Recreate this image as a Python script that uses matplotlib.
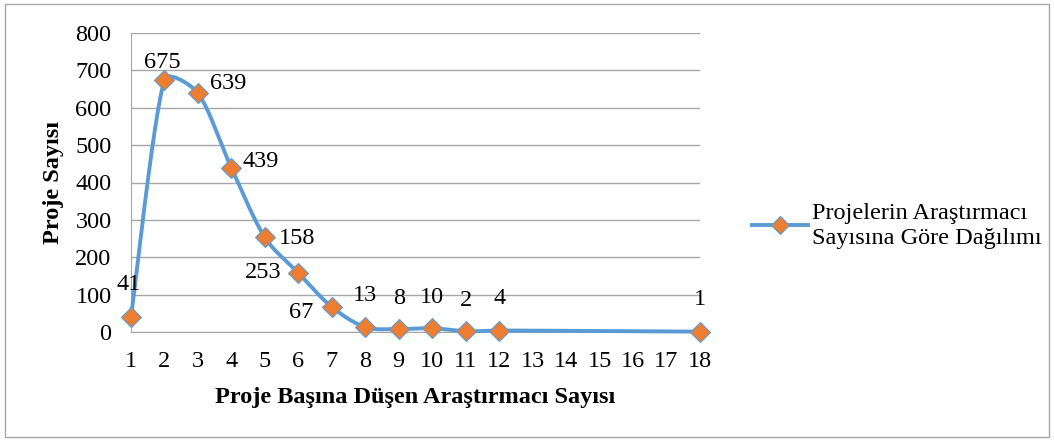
import numpy as np
import matplotlib
matplotlib.use("Agg")
import matplotlib.pyplot as plt
from matplotlib.patches import Rectangle
from matplotlib.lines import Line2D

# data
categories = list(range(1, 19))
x_vals = [1, 2, 3, 4, 5, 6, 7, 8, 9, 10, 11, 12, 18]
y_vals = [41, 675, 639, 439, 253, 158, 67, 13, 8, 10, 2, 4, 1]
series_name = "Projelerin Araştırmacı\nSayısına Göre Dağılımı"

# label offsets in pixels (dx, dy) relative to each point
label_offsets = [(-2, 32), (-2, 17), (30, 10), (29, 6), (-2, -35), (-1, 34),
                 (-31, -6), (0, 32), (0, 31), (0, 31), (0, 31), (0, 32), (0, 32)]

plt.rcParams['font.family'] = ['Liberation Serif', 'DejaVu Serif']
FS = 17.5

fig = plt.figure(figsize=(10.54, 4.41), dpi=100)
ax = fig.add_axes([131/1054, 1 - 332/441, 569/1054, 299/441])

# outer chart border
fig.patches.append(Rectangle((5/1054, 4/441), 1044/1054, 433/441, transform=fig.transFigure,
                             fill=False, edgecolor='#a6a6a6', linewidth=1))

# smoothing (bezier, tangents capped by segment length) in screen-like units
sx = 569 / 17.0
sy = 299 / 800.0
px = (np.array(x_vals) - 1) * sx
py = np.array(y_vals) * sy
cx, cy = [], []
n = len(px)
def dist(a, b):
    return np.hypot(a[0]-b[0], a[1]-b[1])
for i in range(n - 1):
    p0 = (px[max(i-1, 0)], py[max(i-1, 0)])
    p1 = (px[i], py[i])
    p2 = (px[i+1], py[i+1])
    p3 = (px[min(i+2, n-1)], py[min(i+2, n-1)])
    d01, d12, d23 = dist(p0, p1), dist(p1, p2), dist(p2, p3)
    f1 = min(1/6, (d12 / (d01 + d12)) / 3) if d01 > 0 else 1/6
    f2 = min(1/6, (d12 / (d12 + d23)) / 3) if d23 > 0 else 1/6
    c1 = (p1[0] + (p2[0]-p0[0])*f1, p1[1] + (p2[1]-p0[1])*f1)
    c2 = (p2[0] - (p3[0]-p1[0])*f2, p2[1] - (p3[1]-p1[1])*f2)
    t = np.linspace(0, 1, 40)
    bx = (1-t)**3*p1[0] + 3*(1-t)**2*t*c1[0] + 3*(1-t)*t**2*c2[0] + t**3*p2[0]
    by = (1-t)**3*p1[1] + 3*(1-t)**2*t*c1[1] + 3*(1-t)*t**2*c2[1] + t**3*p2[1]
    cx.extend(bx)
    cy.extend(by)
cx = np.array(cx) / sx + 1
cy = np.array(cy) / sy

ax.plot(cx, cy, color='#5b9bd5', linewidth=2.8, solid_capstyle='round', zorder=3, clip_on=False)
ax.plot(x_vals, y_vals, linestyle='none', marker='D', markersize=10,
        markerfacecolor='#ed7d31', markeredgecolor='#5b9bd5', markeredgewidth=0.8,
        zorder=4, clip_on=False)

for xv, yv, (dx, dy) in zip(x_vals, y_vals, label_offsets):
    ax.annotate(str(yv), (xv, yv), xytext=(dx*0.72, dy*0.72), textcoords='offset points',
                ha='center', va='center', fontsize=FS, zorder=5)

ax.set_xlim(1, 18)
ax.set_ylim(0, 800)
ax.set_xticks(categories)
ax.set_yticks(range(0, 801, 100))
ax.tick_params(axis='both', length=0, labelsize=FS)
ax.tick_params(axis='x', pad=14)
ax.tick_params(axis='y', pad=14)
ax.grid(axis='y', color='#a6a6a6', linewidth=1)
ax.set_axisbelow(True)
for s in ['top', 'right']:
    ax.spines[s].set_visible(False)
ax.spines['left'].set_color('#a6a6a6')
ax.spines['bottom'].set_color('#a6a6a6')

ax.set_xlabel('Proje Başına Düşen Araştırmacı Sayısı', fontsize=FS, fontweight='bold')
ax.set_ylabel('Proje Sayısı', fontsize=FS, fontweight='bold')
ax.xaxis.set_label_coords((415-131)/569, -(397-332)/299)
ax.yaxis.set_label_coords(-(131-53)/569, (332-182)/299)
ax.xaxis.label.set_va('center')
ax.yaxis.label.set_va('center')

handle = Line2D([0], [0], color='#5b9bd5', linewidth=2.8, marker='D', markersize=9,
                markerfacecolor='#ed7d31', markeredgecolor='#5b9bd5', markeredgewidth=0.8)
fig.legend([handle], [series_name], loc='center left', bbox_to_anchor=(742/1054, 1 - 226/441),
           frameon=False, fontsize=FS, handlelength=2.3, handletextpad=0.2, numpoints=1,
           borderaxespad=0)

fig.savefig('out.png', dpi=100)
